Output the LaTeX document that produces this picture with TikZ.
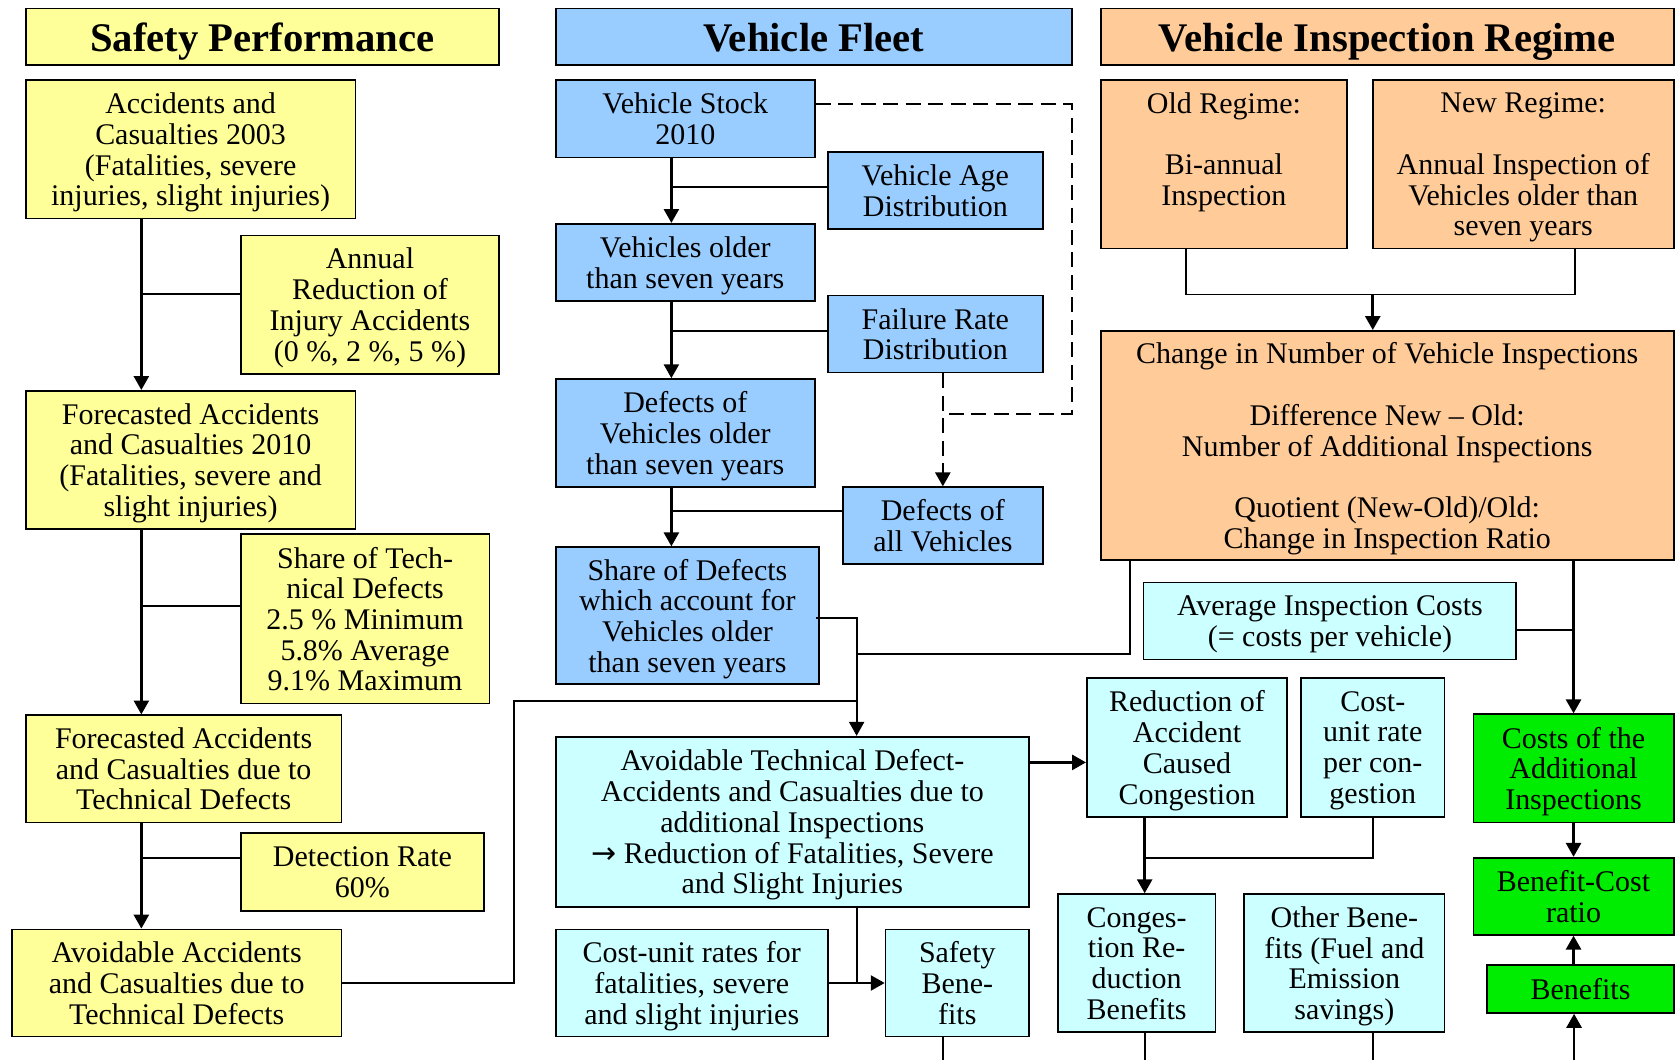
\documentclass[tikz,border=0pt]{standalone}
\usepackage{fontspec}
\setmainfont{Liberation Serif}
\newfontfamily\arrowfont{DejaVu Sans}
\usetikzlibrary{arrows.meta}
\definecolor{ylw}{HTML}{FFFF99}
\definecolor{blu}{HTML}{99CCFF}
\definecolor{org}{HTML}{FFCC99}
\definecolor{cyn}{HTML}{CCFFFF}
\definecolor{grn}{HTML}{00EC00}

\begin{document}
\begin{tikzpicture}[x=0.5pt, y=-0.5pt, line width=0.9pt,
    box/.style={draw, line width=0.8pt, inner sep=0pt, align=center,
      font=\fontsize{14}{14.35}\selectfont, text depth=0pt},
    head/.style={draw, line width=0.8pt, inner sep=0pt, align=center,
      font=\fontsize{19}{21}\selectfont\bfseries,
      execute at begin node={\rule{0pt}{18pt}},
      execute at end node={\rule[-4.2pt]{0pt}{0pt}}},
    arr/.style={line width=1.2pt, -{Triangle[width=7pt,length=6.5pt]}},
    dsh/.style={dash pattern=on 7pt off 3.5pt}]
  \useasboundingbox (0,0) rectangle (1568,990);

  % Safety Performance
  \node[head, fill=ylw, minimum width=221pt, minimum height=26.5pt] (h1) at (245,34.5) {Safety Performance};
  \node[box, fill=ylw, minimum width=154pt, minimum height=64.5pt] (a1) at (178,139.5)
    {Accidents and\\Casualties 2003\\(Fatalities, severe\\injuries, slight injuries)};
  \node[box, fill=ylw, minimum width=120.5pt, minimum height=64.5pt] (r1) at (345.5,284.5)
    {Annual\\Reduction of\\Injury Accidents\\(0 \%, 2 \%, 5 \%)};
  \node[box, fill=ylw, minimum width=154pt, minimum height=64.5pt] (f1) at (178,429.5)
    {Forecasted Accidents\\and Casualties 2010\\(Fatalities, severe and\\slight injuries)};
  \node[box, fill=ylw, minimum width=116pt, minimum height=79pt] (sh1) at (341,578)
    {Share of Tech-\\nical Defects\\2.5 \% Minimum\\5.8\% Average\\9.1\% Maximum};
  \node[box, fill=ylw, minimum width=147.5pt, minimum height=50pt] (t1) at (171.5,718)
    {Forecasted Accidents\\and Casualties due to\\Technical Defects};
  \node[box, fill=ylw, minimum width=113.5pt, minimum height=36.5pt] (d1) at (338.5,814.5)
    {Detection Rate\\60\%};
  \node[box, fill=ylw, minimum width=154pt, minimum height=50pt] (v1) at (165,918)
    {Avoidable Accidents\\and Casualties due to\\Technical Defects};

  % Vehicle Fleet
  \node[head, fill=blu, minimum width=241pt, minimum height=26.5pt] (h2) at (760,34.5) {Vehicle Fleet};
  \node[box, fill=blu, minimum width=121pt, minimum height=36pt] (vs) at (640,111) {Vehicle Stock\\2010};
  \node[box, fill=blu, minimum width=100.5pt, minimum height=36pt] (va) at (873.5,178) {Vehicle Age\\Distribution};
  \node[box, fill=blu, minimum width=121pt, minimum height=36pt] (vo) at (640,245) {Vehicles older\\than seven years};
  \node[box, fill=blu, minimum width=100.5pt, minimum height=36pt] (fr) at (873.5,312) {Failure Rate\\Distribution};
  \node[box, fill=blu, minimum width=121pt, minimum height=50.5pt] (do) at (640,404.5)
    {Defects of\\Vehicles older\\than seven years};
  \node[box, fill=blu, minimum width=93.5pt, minimum height=36pt] (da) at (880.5,491) {Defects of\\all Vehicles};
  \node[box, fill=blu, minimum width=123pt, minimum height=64pt] (sd) at (642,575)
    {Share of Defects\\which account for\\Vehicles older\\than seven years};

  % Vehicle Inspection Regime
  \node[head, fill=org, minimum width=267.5pt, minimum height=26.5pt] (h3) at (1295.5,34.5) {Vehicle Inspection Regime};
  \node[box, fill=org, minimum width=115pt, minimum height=78.5pt] (or) at (1143,153.5)
    {Old Regime:\\ \\Bi-annual\\Inspection\\ \strut};
  \node[box, fill=org, minimum width=140.5pt, minimum height=78.5pt] (nr) at (1422.5,153.5)
    {New Regime:\\ \\Annual Inspection of\\Vehicles older than\\seven years};
  \node[box, fill=org, minimum width=267.5pt, minimum height=107pt] (ci) at (1295.5,416)
    {Change in Number of Vehicle Inspections\\ \\Difference New -- Old:\\Number of Additional Inspections\\ \\Quotient (New-Old)/Old:\\Change in Inspection Ratio};

  % costs and benefits
  \node[box, fill=cyn, minimum width=221pt, minimum height=79.5pt] (at) at (740,767.5)
    {Avoidable Technical Defect-\\Accidents and Casualties due to\\additional Inspections\\{\arrowfont →} Reduction of Fatalities, Severe\\and Slight Injuries};
  \node[box, fill=cyn, minimum width=127pt, minimum height=50pt] (cu) at (646,918)
    {Cost-unit rates for\\fatalities, severe\\and slight injuries};
  \node[box, fill=cyn, minimum width=67pt, minimum height=50pt] (sb) at (894,918) {Safety\\Bene-\\fits};
  \node[box, fill=cyn, minimum width=174pt, minimum height=36pt] (ai) at (1242,580)
    {Average Inspection Costs\\(= costs per vehicle)};
  \node[box, fill=cyn, minimum width=93.5pt, minimum height=65pt] (rc) at (1108.5,698)
    {Reduction of\\Accident\\Caused\\Congestion};
  \node[box, fill=cyn, minimum width=67pt, minimum height=65pt] (cc) at (1282,698)
    {Cost-\\unit rate\\per con-\\gestion};
  \node[box, fill=cyn, minimum width=73.5pt, minimum height=64.5pt] (cb) at (1061.5,899.5)
    {Conges-\\tion Re-\\duction\\Benefits};
  \node[box, fill=cyn, minimum width=93.5pt, minimum height=64.5pt] (ob) at (1255.5,899.5)
    {Other Bene-\\fits (Fuel and\\Emission\\savings)};
  \node[box, fill=grn, minimum width=93.5pt, minimum height=50.5pt] (ca) at (1469.5,717.5)
    {Costs of the\\Additional\\Inspections};
  \node[box, fill=grn, minimum width=93.5pt, minimum height=36pt] (bc) at (1469.5,837) {Benefit-Cost\\ratio};
  \node[box, fill=grn, minimum width=87pt, minimum height=22.5pt] (be) at (1476,923.5) {Benefits};

  % bend points and loose ends
  \coordinate (s1) at (132,0);
  \coordinate (s2) at (627,0);
  \coordinate (s3) at (800,0);
  \coordinate (dk) at (1001,387);
  \coordinate (k1) at (480,655);
  \coordinate (k2) at (1055,611);
  \coordinate (m1) at (1282,275);
  \coordinate (m2) at (1069,801);
  \coordinate (e1) at (881,990);
  \coordinate (e2) at (1069,990);
  \coordinate (e3) at (1282,990);
  \coordinate (e4) at (1470,990);

  % left column
  \draw[arr] (a1.south -| s1) -- (f1.north -| s1);
  \draw[arr] (f1.south -| s1) -- (t1.north -| s1);
  \draw[arr] (t1.south -| s1) -- (v1.north -| s1);
  \draw ([yshift=5pt]r1.west) -- ([yshift=5pt]r1.west -| s1);
  \draw ([yshift=6pt]sh1.west) -- ([yshift=6pt]sh1.west -| s1);
  \draw ([yshift=6.5pt]d1.west) -- ([yshift=6.5pt]d1.west -| s1);

  % middle column
  \draw[arr] (vs.south -| s2) -- (vo.north -| s2);
  \draw[arr] (vo.south -| s2) -- (do.north -| s2);
  \draw[arr] (do.south -| s2) -- (sd.north -| s2);
  \draw ([yshift=1.5pt]va.west) -- ([yshift=1.5pt]va.west -| s2);
  \draw ([yshift=1.5pt]fr.west) -- ([yshift=1.5pt]fr.west -| s2);
  \draw ([yshift=7pt]da.west) -- ([yshift=7pt]da.west -| s2);
  \draw[dsh] ([yshift=7pt]vs.east) -| (dk) -- (dk -| da.north);
  \draw[arr, dsh] (da.north |- fr.south) -- (da.north);

  % into the avoidable accidents
  \draw[arr, line width=0.9pt] ([xshift=-2pt,yshift=-1pt]sd.east) -| (at.north -| s3);
  \draw (ci.south -| k2) -- (k2) -- (k2 -| s3);
  \draw (v1.east) -| (k1) -- (k1 -| s3);
  \draw[arr] ([yshift=-7pt]rc.west -| at.east) -- ([yshift=-7pt]rc.west);
  \draw (at.south -| s3) -- (cu.east -| s3);
  \draw[arr] (cu.east) -- (sb.west);
  \draw (sb.south -| e1) -- (e1);

  % right column
  \draw ([xshift=-17.5pt]or.south) |- (m1) -| ([xshift=24pt]nr.south);
  \draw[arr] (m1) -- (m1 |- ci.north);
  \draw[arr] (ca.north |- ci.south) -- (ca.north);
  \draw ([yshift=-4pt]ai.east) -- ([yshift=-4pt]ai.east -| ca.north);
  \draw[arr] (rc.south -| m2) -- (cb.north -| m2);
  \draw (cc.south) |- (m2);
  \draw[arr] (ca.south) -- (bc.north);
  \draw[arr] (be.north -| bc.south) -- (bc.south);
  \draw[arr] (e4) -- (e4 |- be.south);
  \draw (cb.south -| e2) -- (e2);
  \draw (ob.south -| e3) -- (e3);
\end{tikzpicture}
\end{document}
